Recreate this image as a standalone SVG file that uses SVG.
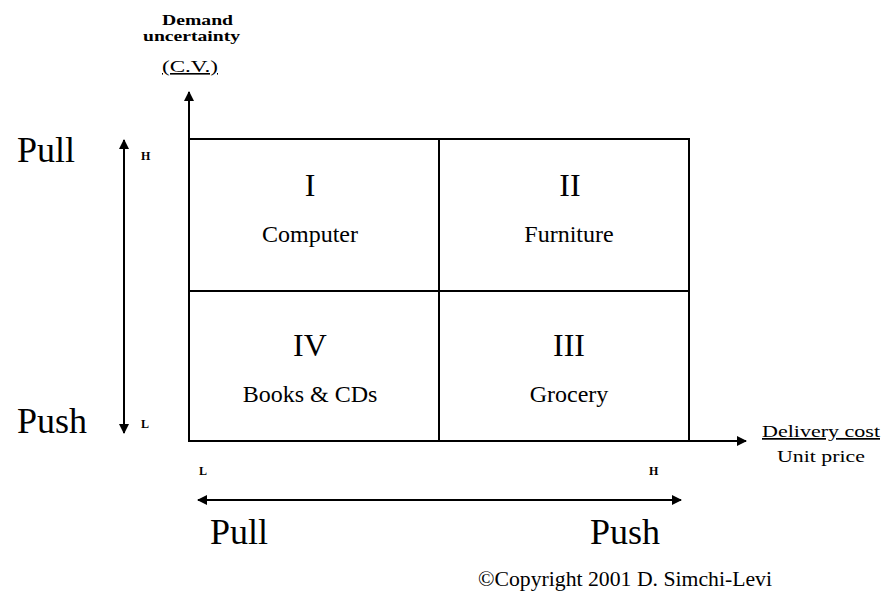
<svg xmlns="http://www.w3.org/2000/svg" width="885" height="600" viewBox="0 0 885 600">
<style>
text{font-family:"Liberation Serif","Times New Roman",serif;fill:#000}
.big{font-size:36px}
.num{font-size:32px;text-anchor:middle}
.lbl{font-size:24px;text-anchor:middle}
.sm{font-size:12px;font-weight:bold}
.ax{font-size:17px;text-anchor:middle}
.ay{font-size:14px;text-anchor:middle;font-weight:bold}
line{stroke:#000;stroke-width:2}
</style>
<defs>
<marker id="ah" viewBox="0 0 10 10" refX="9" refY="5" markerWidth="5" markerHeight="5" orient="auto-start-reverse" markerUnits="strokeWidth"><path d="M0,0 L10,5 L0,10 z" fill="#000"/></marker>
</defs>
<rect width="885" height="600" fill="#fff"/>
<g id="connectors">
<line x1="189" y1="441" x2="189" y2="92" marker-end="url(#ah)"/>
<line x1="189" y1="441" x2="746" y2="441" marker-end="url(#ah)"/>
<line x1="124" y1="433" x2="124" y2="140" marker-start="url(#ah)" marker-end="url(#ah)"/>
<line x1="198" y1="500" x2="681" y2="500" marker-start="url(#ah)" marker-end="url(#ah)"/>
</g>
<g id="grid">
<rect x="189" y="139" width="500" height="302" fill="none" stroke="#000" stroke-width="2"/>
<line x1="439" y1="139" x2="439" y2="441"/>
<line x1="189" y1="291" x2="689" y2="291"/>
</g>
<g id="q1"><text class="num" x="310" y="196">I</text><text class="lbl" x="310" y="242" style="font-family:'Liberation Serif',serif">Computer</text></g>
<g id="q2"><text class="num" x="570" y="196">II</text><text class="lbl" x="569" y="242" style="font-family:'Liberation Serif',serif">Furniture</text></g>
<g id="q4"><text class="num" x="310" y="356">IV</text><text class="lbl" x="310" y="402" style="font-family:'Liberation Serif',serif">Books &amp; CDs</text></g>
<g id="q3"><text class="num" x="569" y="356">III</text><text class="lbl" x="569" y="402" style="font-family:'Liberation Serif',serif">Grocery</text></g>
<g id="yaxis-label">
<text class="ay" x="197.5" y="25" textLength="71" lengthAdjust="spacingAndGlyphs">Demand</text>
<text class="ay" x="191.5" y="41" textLength="97" lengthAdjust="spacingAndGlyphs">uncertainty</text>
<text class="ax" x="190" y="72" textLength="56" lengthAdjust="spacingAndGlyphs" style="font-size:16px" text-decoration="underline">(C.V.)</text>
</g>
<g id="xaxis-label">
<text class="ax" x="821" y="437" textLength="118" lengthAdjust="spacingAndGlyphs" text-decoration="underline">Delivery cost</text>
<text class="ax" x="821" y="462" textLength="88" lengthAdjust="spacingAndGlyphs">Unit price</text>
</g>
<g id="ticks">
<text class="sm" x="141" y="160">H</text>
<text class="sm" x="141" y="428">L</text>
<text class="sm" x="199" y="475">L</text>
<text class="sm" x="649" y="475">H</text>
</g>
<g id="strategy">
<text class="big" x="17" y="162">Pull</text>
<text class="big" x="17" y="433">Push</text>
<text class="big" x="210" y="544">Pull</text>
<text class="big" x="590" y="544">Push</text>
</g>
<text x="478" y="586" font-size="21" textLength="294" lengthAdjust="spacingAndGlyphs">©Copyright 2001 D. Simchi-Levi</text>
</svg>
